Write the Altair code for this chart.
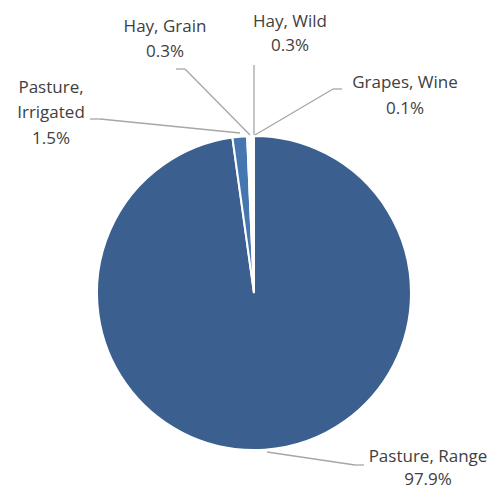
import altair as alt
import pandas as pd

# Data
categories = ["Pasture, Range", "Pasture, Irrigated", "Hay, Grain", "Hay, Wild", "Grapes, Wine"]
values = [97.9, 1.5, 0.3, 0.3, 0.1]
colors = ["#3B5F8E", "#4676B0", "#FFFFFF", "#FFFFFF", "#FFFFFF"]
pct_labels = ["97.9%", "1.5%", "0.3%", "0.3%", "0.1%"]

# Layout (pixel positions of labels in page coordinates)
label_lines = [
    ("Pasture, Range", 428, 457),
    ("97.9%", 428, 480),
    ("Pasture,", 51, 88),
    ("Irrigated", 51, 113),
    ("1.5%", 51, 139),
    ("Hay, Grain", 165, 27),
    ("0.3%", 165, 52),
    ("Hay, Wild", 290, 22),
    ("0.3%", 290, 46),
    ("Grapes, Wine", 405, 83),
    ("0.1%", 405, 109),
]
leaders = [
    (267, 452, 355, 465), (355, 465, 364, 465),
    (240, 133, 100, 119), (100, 119, 90, 119),
    (250, 135, 185, 69), (185, 69, 176, 69),
    (254, 135, 254, 65),
    (255, 135, 333, 89), (333, 89, 342, 89),
]

OFF = 8
cx, cy, R = 254 - OFF, 293 - OFF, 157

pie_df = pd.DataFrame({"cat": categories, "value": values, "order": list(range(len(values)))})
txt_df = pd.DataFrame({"text": [t for t, _, _ in label_lines],
                       "x": [x - OFF for _, x, _ in label_lines],
                       "y": [y - OFF for _, _, y in label_lines]})
ld_df = pd.DataFrame({"x": [a - OFF for a, _, _, _ in leaders],
                      "y": [b - OFF for _, b, _, _ in leaders],
                      "x2": [c - OFF for _, _, c, _ in leaders],
                      "y2": [d - OFF for _, _, _, d in leaders]})

pie = alt.Chart(pie_df).mark_arc(outerRadius=R, stroke="white", strokeWidth=2).encode(
    theta=alt.Theta("value:Q", stack=True),
    order=alt.Order("order:Q"),
    color=alt.Color("cat:N", scale=alt.Scale(domain=categories, range=colors), legend=None),
    x=alt.value(cx),
    y=alt.value(cy),
)

lines = alt.Chart(ld_df).mark_rule(color="#A6A6A6", strokeWidth=1.3).encode(
    x=alt.X("x:Q", scale=None), y=alt.Y("y:Q", scale=None),
    x2="x2:Q", y2="y2:Q",
)

texts = alt.Chart(txt_df).mark_text(font="Open Sans", fontSize=17, color="#404040",
                                    align="center", baseline="middle").encode(
    x=alt.X("x:Q", scale=None), y=alt.Y("y:Q", scale=None), text="text:N",
)

chart = alt.layer(pie, lines, texts).properties(
    width=485, height=482, padding=0, autosize=alt.AutoSizeParams(type="none"),
).configure_view(stroke=None)

chart.save("out.html", embed_options={"renderer": "svg", "actions": False})
